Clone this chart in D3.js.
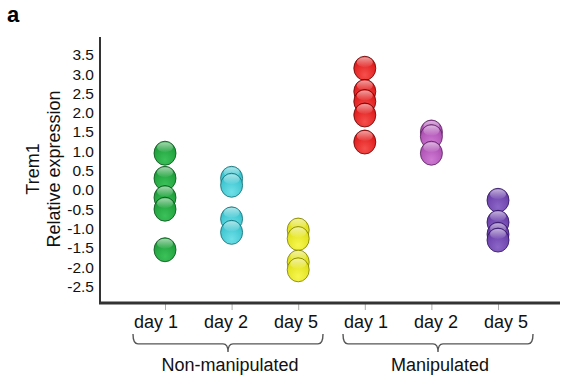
<!DOCTYPE html>
<html>
<head>
<meta charset="utf-8">
<script src="https://cdn.jsdelivr.net/npm/d3@7"></script>
<style>
  body { margin: 0; background: #fff; }
  svg { display: block; font-family: "Liberation Sans", Arial, sans-serif; }
</style>
</head>
<body>
<div id="chart"></div>
<script>
// groups along the x axis
const categories = ['nm1', 'nm2', 'nm5', 'm1', 'm2', 'm5'];
const dayLabels = ['day 1', 'day 2', 'day 5', 'day 1', 'day 2', 'day 5'];
const groupNames = ['Non-manipulated', 'Manipulated'];
const groupMembers = [['nm1', 'nm2', 'nm5'], ['m1', 'm2', 'm5']];

// relative expression per animal
const nonManipulatedDay1 = [0.95, 0.3, -0.2, -0.5, -1.55];
const nonManipulatedDay2 = [0.3, 0.12, -0.75, -1.1];
const nonManipulatedDay5 = [-1.04, -1.26, -1.87, -2.07];
const manipulatedDay1 = [3.15, 2.55, 2.29, 1.94, 1.24];
const manipulatedDay2 = [1.5, 1.38, 0.95];
const manipulatedDay5 = [-0.27, -0.84, -1.15, -1.3];

const yTicks = [3.5, 3.0, 2.5, 2.0, 1.5, 1.0, 0.5, 0.0, -0.5, -1.0, -1.5, -2.0, -2.5];

const colors = {
  nm1: ['#3cc25a', '#1b9a37', '#0b4f1b'],
  nm2: ['#6fe0e8', '#33c0cb', '#146a72'],
  nm5: ['#f6f650', '#dede15', '#7a7a08'],
  m1: ['#f5504d', '#dc1515', '#5e0505'],
  m2: ['#cf7ad3', '#a94bb0', '#55205b'],
  m5: ['#8c66c8', '#663ba5', '#2e135c']
};

const series = {
  nm1: nonManipulatedDay1,
  nm2: nonManipulatedDay2,
  nm5: nonManipulatedDay5,
  m1: manipulatedDay1,
  m2: manipulatedDay2,
  m5: manipulatedDay5
};

const width = 562, height = 384;

const svg = d3.select('#chart').append('svg')
  .attr('width', width)
  .attr('height', height);

const x = d3.scalePoint().domain(categories).range([165, 498]);
const xLabel = d3.scalePoint().domain(d3.range(dayLabels.length)).range([156, 506]);
const y = d3.scaleLinear().domain([-2.93, 3.96]).range([303, 37]);

// gradients for the glossy beads
const defs = svg.append('defs');
categories.forEach(c => {
  const g = defs.append('radialGradient')
    .attr('id', 'body-' + c)
    .attr('cx', '50%').attr('cy', '78%').attr('r', '70%');
  g.append('stop').attr('offset', '0%').attr('stop-color', colors[c][0]);
  g.append('stop').attr('offset', '100%').attr('stop-color', colors[c][1]);
});
const shine = defs.append('linearGradient')
  .attr('id', 'shine')
  .attr('x1', 0).attr('y1', 0).attr('x2', 0).attr('y2', 1);
shine.append('stop').attr('offset', '0%').attr('stop-color', '#fff').attr('stop-opacity', 0.6);
shine.append('stop').attr('offset', '100%').attr('stop-color', '#fff').attr('stop-opacity', 0.03);

// panel letter
svg.append('text')
  .attr('x', 7).attr('y', 22)
  .attr('font-size', 22).attr('font-weight', 'bold')
  .text('a');

// y axis
const yAxis = svg.append('g')
  .attr('transform', 'translate(100,0)')
  .call(d3.axisLeft(y).tickValues(yTicks).tickSize(0).tickPadding(6)
    .tickFormat(d => d.toFixed(1)));
yAxis.select('.domain').remove();
yAxis.selectAll('text').attr('font-size', 15.5).attr('fill', '#111')
  .attr('font-family', '"Liberation Sans", Arial, sans-serif');

svg.append('line')
  .attr('x1', 100).attr('x2', 100)
  .attr('y1', y.range()[1]).attr('y2', y.range()[0] + 1)
  .attr('stroke', '#333').attr('stroke-width', 2);

// x axis
const xAxis = svg.append('g')
  .attr('transform', `translate(0,${y.range()[0]})`)
  .call(d3.axisBottom(x).tickSize(7).tickFormat(''));
xAxis.select('.domain').remove();
xAxis.selectAll('line').attr('stroke', '#aaa').attr('stroke-width', 1);

svg.append('line')
  .attr('x1', 99).attr('x2', 560)
  .attr('y1', y.range()[0]).attr('y2', y.range()[0])
  .attr('stroke', '#333').attr('stroke-width', 3);

svg.append('g')
  .selectAll('text')
  .data(dayLabels)
  .join('text')
  .attr('x', (d, i) => xLabel(i))
  .attr('y', 328)
  .attr('text-anchor', 'middle')
  .attr('font-size', 18)
  .attr('fill', '#111')
  .text(d => d);

// axis title
const title = svg.append('text')
  .attr('transform', 'translate(0,169) rotate(-90)')
  .attr('text-anchor', 'middle')
  .attr('font-size', 18)
  .attr('fill', '#111');
title.append('tspan').attr('x', 0).attr('y', 39).text('Trem1');
title.append('tspan').attr('x', 0).attr('y', 60).text('Relative expression');

// braces under the groups
const brace = (x0, x1, top, depth) => {
  const mid = (x0 + x1) / 2, yb = top + depth * 0.55, r = 5;
  return `M${x0},${top} Q${x0},${yb} ${x0 + r},${yb} L${mid - r},${yb}
    Q${mid},${yb} ${mid},${top + depth} Q${mid},${yb} ${mid + r},${yb}
    L${x1 - r},${yb} Q${x1},${yb} ${x1},${top}`;
};

groupMembers.forEach((members, gi) => {
  const i0 = categories.indexOf(members[0]);
  const i1 = categories.indexOf(members[members.length - 1]);
  const x0 = xLabel(i0) - 23, x1 = xLabel(i1) + 27;
  svg.append('path')
    .attr('d', brace(x0, x1, 334, 18))
    .attr('fill', 'none')
    .attr('stroke', '#555')
    .attr('stroke-width', 1.4);
  svg.append('text')
    .attr('x', (x0 + x1) / 2 + 2)
    .attr('y', 371)
    .attr('text-anchor', 'middle')
    .attr('font-size', 18)
    .attr('fill', '#111')
    .text(groupNames[gi]);
});

// beads
const points = categories.flatMap(c =>
  series[c].slice().sort((a, b) => b - a).map(v => ({ c, v })));

const bead = svg.append('g')
  .selectAll('g')
  .data(points)
  .join('g')
  .attr('transform', d => `translate(${x(d.c)},${y(d.v)})`);

bead.append('ellipse')
  .attr('rx', 11).attr('ry', 12)
  .attr('fill', d => `url(#body-${d.c})`)
  .attr('stroke', d => colors[d.c][2])
  .attr('stroke-opacity', 0.8)
  .attr('stroke-width', 1);

bead.append('ellipse')
  .attr('cy', -6)
  .attr('rx', 8).attr('ry', 5)
  .attr('fill', 'url(#shine)');
</script>
</body>
</html>
